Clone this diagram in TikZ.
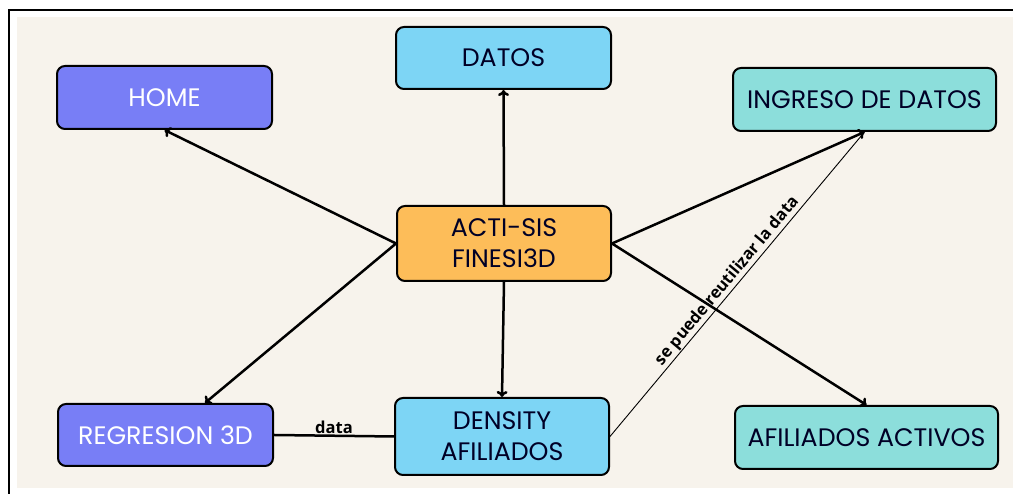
\documentclass[tikz,border=0pt]{standalone}
\usepackage{xcolor}
\usepackage{fontspec}
\setmainfont{Poppins}
\newfontfamily\notefont{Open Sans}
\usepackage{tikz}
\usetikzlibrary{arrows.meta}

\definecolor{paper}{HTML}{F7F3EC}
\definecolor{violeta}{HTML}{787EF6}
\definecolor{celeste}{HTML}{7DD5F5}
\definecolor{turquesa}{HTML}{8CDEDB}
\definecolor{naranja}{HTML}{FDBD59}

\begin{document}
\begin{tikzpicture}[x=1pt,y=1pt]
			\tikzstyle{modulo} = [draw, line width=2pt, rounded corners=8pt, align=center, font=\fontsize{25.3}{31}\selectfont, text=black!85!blue, inner sep=0pt]
			\tikzstyle{nota} = [font=\notefont\bfseries\fontsize{16.5}{18}\selectfont, inner sep=1pt]
			\tikzset{edge/.style = {line width=2.5pt, -{To[length=6pt,width=11pt]}}}
			
			\useasboundingbox (0,0) rectangle (1013,494);
			\fill[paper] (17,6) rectangle (1013,477);
			\draw[line width=1.3pt] (8,484) -- (1013,484);
			\draw[line width=1.3pt] (9,484) -- (9,0);
			
			\node[modulo, fill=naranja, minimum width=214pt, minimum height=75pt](centro) at (504,250.5) {ACTI-SIS\\FINESI3D};
			\node[modulo, fill=violeta, text=white, minimum width=215pt, minimum height=63pt](home) at (164.5,396.5) {HOME};
			\node[modulo, fill=celeste, minimum width=215pt, minimum height=62pt](datos) at (503.5,436) {DATOS};
			\node[modulo, fill=turquesa, minimum width=263pt, minimum height=63pt](ingreso) at (864.5,394.5) {INGRESO DE DATOS};
			\node[modulo, fill=violeta, text=white, minimum width=215pt, minimum height=62pt](regresion) at (165.5,59) {REGRESION 3D};
			\node[modulo, fill=celeste, minimum width=214pt, minimum height=77pt](density) at (502,57.5) {DENSITY\\AFILIADOS};
			\node[modulo, fill=turquesa, minimum width=263pt, minimum height=63pt](activos) at (866.5,56.5) {AFILIADOS ACTIVOS};
			
			\draw[edge](centro.north) to (datos.south);
			\draw[edge](centro.south) to (density.north);
			\draw[edge](centro.west) to (home.south);
			\draw[edge](centro.west) to (regresion.39);
			\draw[edge](centro.east) to (ingreso.south);
			\draw[edge](centro.east) to (activos.north);
			
			\draw[line width=2.5pt](regresion.east) to node[nota, above]{data} (density.west);
			\draw[line width=0.9pt](density.east) to node[nota, above, sloped, pos=0.49]{se puede reutilizar la data} (ingreso.south);
			
			\end{tikzpicture}
\end{document}
